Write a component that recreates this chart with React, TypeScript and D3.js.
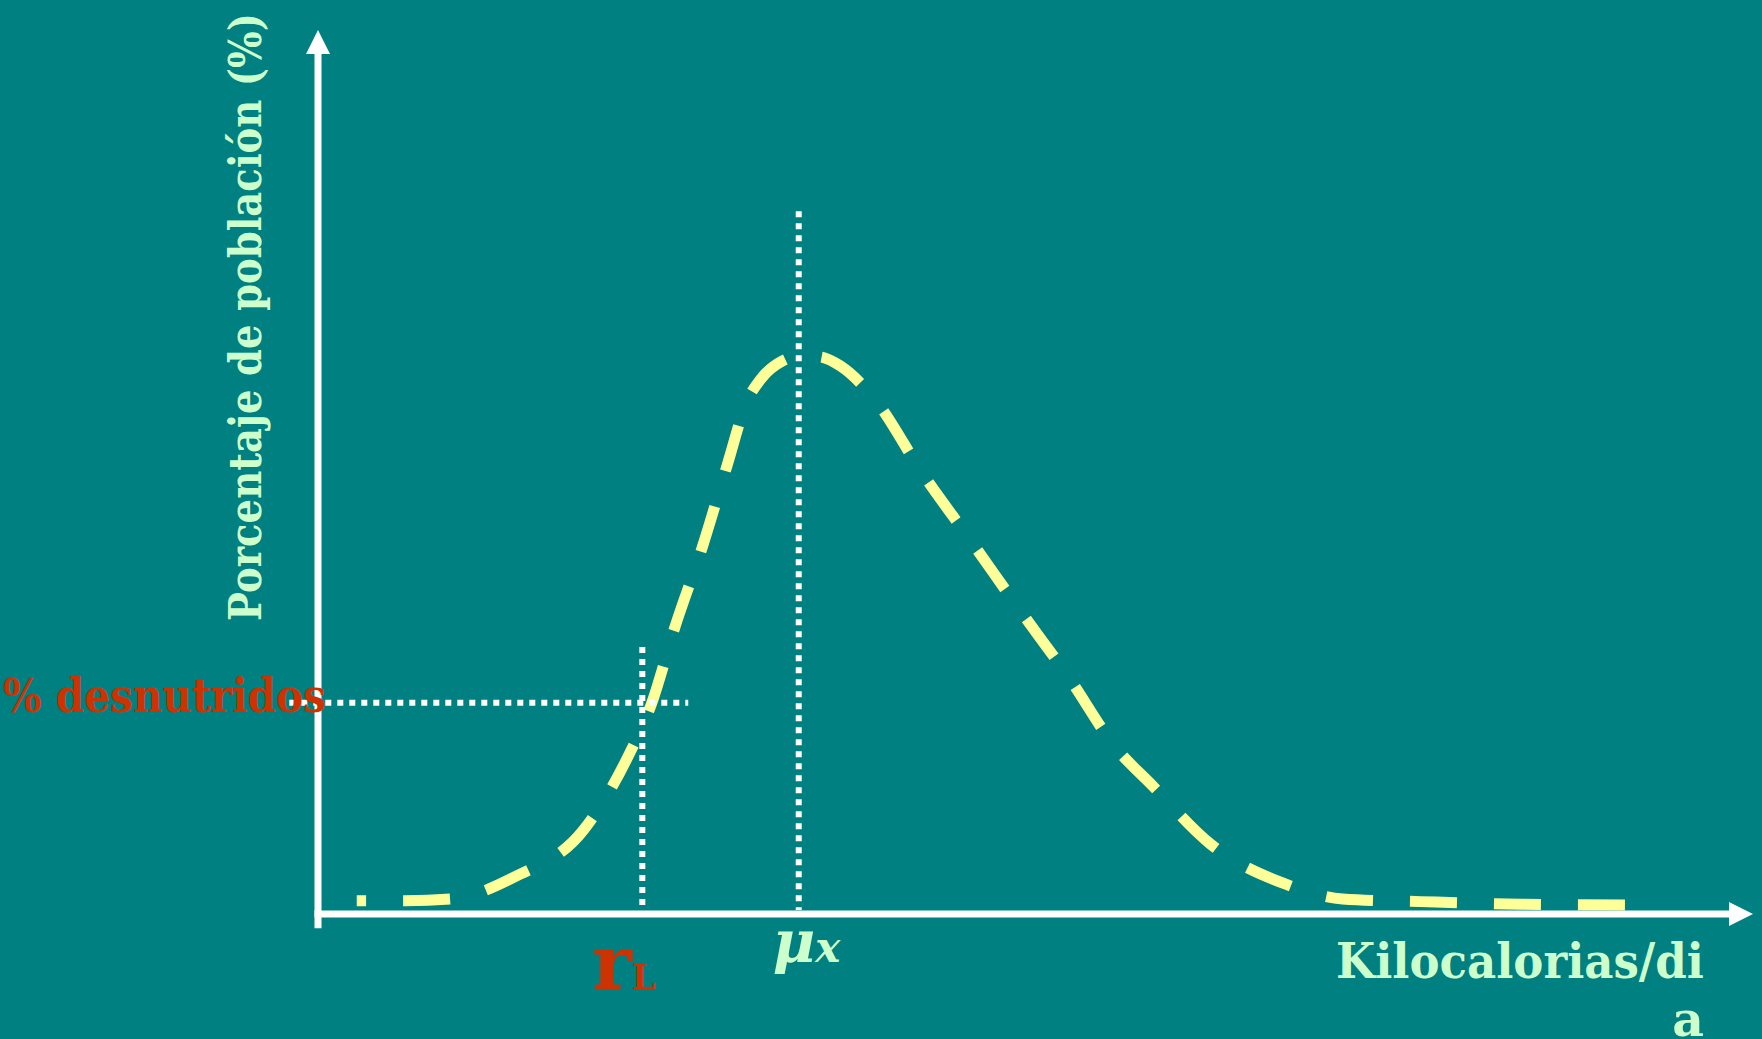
import React, { useEffect, useRef, useState } from "react";
import * as d3 from "d3";

const WIDTH = 1762;
const HEIGHT = 1039;

// Intake distribution (x: share of the kcal axis, y: % of population)
const curveX = [2.7, 6.1, 9.3, 13.7, 18.5, 21.6, 23.2, 24.9, 26.8, 28.5, 29.9, 30.9, 32.4, 33.8, 35.1, 36.4, 38.9, 42.1, 45.5, 48.9, 52.3, 55.6, 58.1, 62.2, 67.4, 71.4, 76.8, 83.8, 92.3];
const curveY = [1.5, 1.5, 1.7, 4.2, 9.5, 17.8, 23.6, 32.6, 41.6, 50.7, 58.0, 60.6, 62.6, 63.2, 63.0, 62.0, 58.0, 49.9, 42.2, 34.4, 26.8, 18.8, 14.6, 7.9, 3.4, 1.7, 1.4, 1.1, 1.0];

// reference marks
const muX = 33.5; // mean intake
const rlX = 22.6; // requirement cut-off r_L
const undernourishedPct = 23.9;
const muLineTop = 79.5;
const rlLineRange = [1.0, 30.2];
const pctLineRange = [-2.0, 25.8];
const peakX = 33.8;

// axis extents
const xAxisEnd = 100;
const yAxisEnd = 100;
const yAxisBelow = -1.6;

const BG = "#008080";
const CURVE = "#FFFF99";
const GREEN_TEXT = "#CCFFCC";
const RED_TEXT = "#CC3300";
const FONT = "'DejaVu Serif', 'Liberation Serif', serif";

const DASH = 47;
const GAP = 37;

const App: React.FC = () => {
    const pathRef = useRef<SVGPathElement | null>(null);
    const [dashOffset, setDashOffset] = useState(0);

    const x = d3.scaleLinear().domain([0, 100]).range([318, 1753]);
    const y = d3.scaleLinear().domain([0, 100]).range([914, 30]);

    useEffect(() => {
        document.body.style.margin = "0";
        document.body.style.background = BG;
    }, []);

    // put a gap of the dash pattern right on the peak, like the original
    useEffect(() => {
        const path = pathRef.current;
        if (!path) return;
        const total = path.getTotalLength();
        const target = x(peakX);
        let lo = 0;
        let hi = total;
        for (let i = 0; i < 40; i++) {
            const mid = (lo + hi) / 2;
            if (path.getPointAtLength(mid).x < target) lo = mid;
            else hi = mid;
        }
        const period = DASH + GAP;
        const want = DASH + GAP / 2;
        setDashOffset((((want - lo) % period) + period) % period);
    }, []);

    const line = d3
        .line<[number, number]>()
        .x(d => x(d[0]))
        .y(d => y(d[1]))
        .curve(d3.curveMonotoneX);
    const curvePath = line(curveX.map((v, i) => [v, curveY[i]] as [number, number])) || "";

    const x0 = x(0);
    const y0 = y(0);
    const xTip = x(xAxisEnd);
    const yTip = y(yAxisEnd);
    const head = 24;

    return (
        <svg
            width={WIDTH}
            height={HEIGHT}
            style={{ position: "absolute", left: 0, top: 0, display: "block" }}
        >
            <rect width={WIDTH} height={HEIGHT} fill={BG} />

            {/* axes */}
            <line x1={x0} x2={x0} y1={y(yAxisBelow)} y2={yTip + head - 1} stroke="#fff" strokeWidth={7} />
            <polygon points={`${x0},${yTip} ${x0 - 12},${yTip + head} ${x0 + 12},${yTip + head}`} fill="#fff" />
            <line x1={x0 - 3.5} x2={xTip - head + 1} y1={y0} y2={y0} stroke="#fff" strokeWidth={7} />
            <polygon points={`${xTip},${y0} ${xTip - head},${y0 - 12} ${xTip - head},${y0 + 12}`} fill="#fff" />

            {/* distribution */}
            <path
                ref={pathRef}
                d={curvePath}
                fill="none"
                stroke={CURVE}
                strokeWidth={11}
                strokeDasharray={`${DASH} ${GAP}`}
                strokeDashoffset={dashOffset}
            />

            {/* dotted guides */}
            <line x1={x(muX)} x2={x(muX)} y1={y(muLineTop)} y2={y0 - 4} stroke="#fff" strokeWidth={6} strokeDasharray="6 6" />
            <line x1={x(rlX)} x2={x(rlX)} y1={y(rlLineRange[1])} y2={y(rlLineRange[0])} stroke="#fff" strokeWidth={6} strokeDasharray="6 6" />
            <line
                x1={x(pctLineRange[0])}
                x2={x(pctLineRange[1])}
                y1={y(undernourishedPct)}
                y2={y(undernourishedPct)}
                stroke="#fff"
                strokeWidth={6}
                strokeDasharray="6 6"
            />

            {/* labels */}
            <text
                transform="translate(261,621) rotate(-90)"
                fontFamily={FONT}
                fontWeight="bold"
                fontSize={44}
                fill={GREEN_TEXT}
                textLength={608}
                lengthAdjust="spacingAndGlyphs"
            >
                Porcentaje de población (%)
            </text>
            <text
                x={3}
                y={y(undernourishedPct) + 9}
                fontFamily={FONT}
                fontWeight="bold"
                fontSize={47}
                fill={RED_TEXT}
                textLength={323}
                lengthAdjust="spacingAndGlyphs"
            >
                % desnutridos
            </text>
            <text x={x(rlX) - 50} y={989} fontFamily={FONT} fontWeight="bold" fill={RED_TEXT}>
                <tspan fontSize={75}>r</tspan>
                <tspan fontSize={34}>L</tspan>
            </text>
            <text x={x(muX) - 26} y={962} fontFamily={FONT} fontWeight="bold" fontStyle="italic" fill={GREEN_TEXT}>
                <tspan fontSize={58}>μ</tspan>
                <tspan fontSize={42}>x</tspan>
            </text>
            <text
                x={1704}
                y={978}
                textAnchor="end"
                fontFamily={FONT}
                fontWeight="bold"
                fontSize={49}
                fill={GREEN_TEXT}
                textLength={368}
                lengthAdjust="spacingAndGlyphs"
            >
                Kilocalorias/di
            </text>
            <text x={1704} y={1036} textAnchor="end" fontFamily={FONT} fontWeight="bold" fontSize={49} fill={GREEN_TEXT}>
                a
            </text>
        </svg>
    );
};

export default App;
